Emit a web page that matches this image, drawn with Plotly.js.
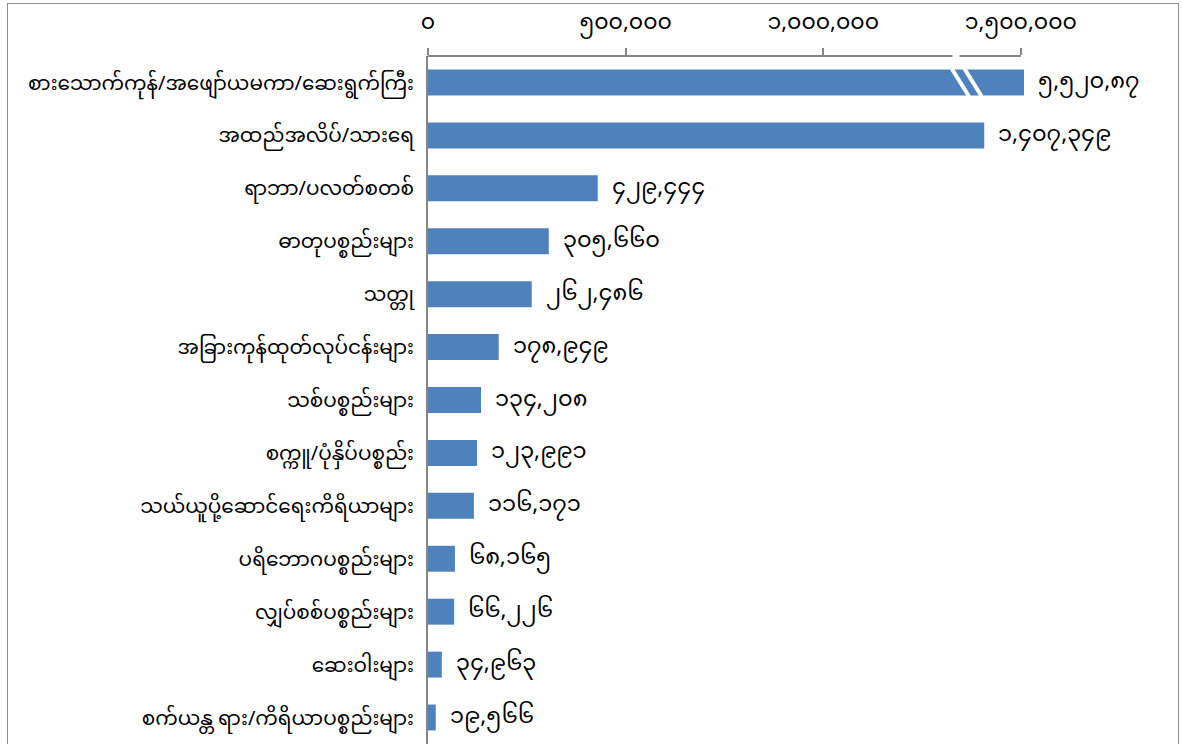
<!DOCTYPE html>
<html>
<head>
<meta charset="utf-8">
<script src="https://cdn.plot.ly/plotly-3.0.1.min.js"></script>
<style>
  html, body { margin: 0; padding: 0; background: #ffffff; overflow: hidden; }
  #frame { position: absolute; left: 7px; top: 3px; width: 1172px; height: 800px;
           border: 1.5px solid #8c8c8c; box-sizing: border-box; }
  #chart { position: absolute; left: 0; top: 0; width: 1182px; height: 744px; }
</style>
</head>
<body>
<div id="frame"></div>
<div id="chart"></div>
<script>
// ---- data ----
const categories = [
  "စားသောက်ကုန်/အဖျော်ယမကာ/ဆေးရွက်ကြီး",
  "အထည်အလိပ်/သားရေ",
  "ရာဘာ/ပလတ်စတစ်",
  "ဓာတုပစ္စည်းများ",
  "သတ္တု",
  "အခြားကုန်ထုတ်လုပ်ငန်းများ",
  "သစ်ပစ္စည်းများ",
  "စက္ကူ/ပုံနှိပ်ပစ္စည်း",
  "သယ်ယူပို့ဆောင်ရေးကိရိယာများ",
  "ပရိဘောဂပစ္စည်းများ",
  "လျှပ်စစ်ပစ္စည်းများ",
  "ဆေးဝါးများ",
  "စက်ယန္တ ရား/ကိရိယာပစ္စည်းများ"
];
const values = [5520870, 1407349, 429444, 305660, 262486, 178949, 134208, 123991, 116171, 68165, 66226, 34963, 19566];
const valueLabels = [
  "၅,၅၂၀,၈၇", "၁,၄၀၇,၃၄၉", "၄၂၉,၄၄၄", "၃၀၅,၆၆၀", "၂၆၂,၄၈၆", "၁၇၈,၉၄၉",
  "၁၃၄,၂၀၈", "၁၂၃,၉၉၁", "၁၁၆,၁၇၁", "၆၈,၁၆၅", "၆၆,၂၂၆", "၃၄,၉၆၃", "၁၉,၅၆၆"
];
const tickValues = [0, 500000, 1000000, 1500000];
const tickLabels = ["၀", "၅၀၀,၀၀၀", "၁,၀၀၀,၀၀၀", "၁,၅၀၀,၀၀၀"];

// ---- axis settings ----
const AXIS_MAX = 1508000;     // visible end of the broken value axis
const AXIS_LINE_END = 1500000;
const BREAK_AT = 1335000;     // where the axis break is drawn

const FONT = '"Noto Sans Myanmar", "Padauk", "Myanmar Text", "Noto Sans", sans-serif';
const BAR_COLOR = '#4f81bd';
const AXIS_COLOR = '#868686';

const shown = values.map(v => Math.min(v, AXIS_MAX));

const trace = {
  type: 'bar',
  orientation: 'h',
  x: shown,
  y: categories,
  marker: { color: BAR_COLOR },
  hoverinfo: 'skip'
};

const annotations = categories.map((c, i) => ({
  x: shown[i], y: c, xref: 'x', yref: 'y',
  text: valueLabels[i], showarrow: false,
  xanchor: 'left', yanchor: 'middle', xshift: 12,
  font: { family: FONT, size: 22.5, color: '#000000' }
}));

const shapes = [
  // top value axis line, with a gap for the break
  { type: 'line', xref: 'x', yref: 'paper', x0: 0, x1: BREAK_AT - 8000, y0: 1, y1: 1,
    line: { color: AXIS_COLOR, width: 2 } },
  { type: 'line', xref: 'x', yref: 'paper', x0: BREAK_AT + 10000, x1: AXIS_LINE_END, y0: 1, y1: 1,
    line: { color: AXIS_COLOR, width: 2 } }
];
// break marks across the clipped bar
const bw = 0.49;
[0, 32000].forEach(off => {
  const xa = BREAK_AT - 10000 + off;
  shapes.push({
    type: 'line', xref: 'x', yref: 'y',
    x0: xa, y0: -bw / 2 - 0.02, x1: xa + 44000, y1: bw / 2 + 0.02,
    line: { color: '#ffffff', width: 4 }
  });
});

const layout = {
  width: 1182, height: 744,
  margin: { l: 428, r: 158, t: 56, b: 0, pad: 0 },
  paper_bgcolor: 'rgba(0,0,0,0)',
  plot_bgcolor: 'rgba(0,0,0,0)',
  showlegend: false,
  bargap: 0.51,
  font: { family: FONT, color: '#000000' },
  xaxis: {
    side: 'top',
    range: [0, AXIS_MAX],
    tickvals: tickValues,
    ticktext: tickLabels,
    ticks: 'outside', ticklen: 7, tickwidth: 2, tickcolor: AXIS_COLOR,
    showgrid: false, zeroline: false, showline: false,
    tickfont: { family: FONT, size: 22, color: '#000000' },
    ticklabelstandoff: 10,
    fixedrange: true
  },
  yaxis: {
    type: 'category',
    autorange: 'reversed',
    showline: true, linecolor: AXIS_COLOR, linewidth: 2,
    ticks: '', showgrid: false, zeroline: false,
    tickfont: { family: FONT, size: 20, color: '#000000' },
    ticklabelstandoff: 8,
    fixedrange: true
  },
  annotations: annotations,
  shapes: shapes
};

Plotly.newPlot('chart', [trace], layout, { displayModeBar: false, staticPlot: true });
</script>
</body>
</html>
